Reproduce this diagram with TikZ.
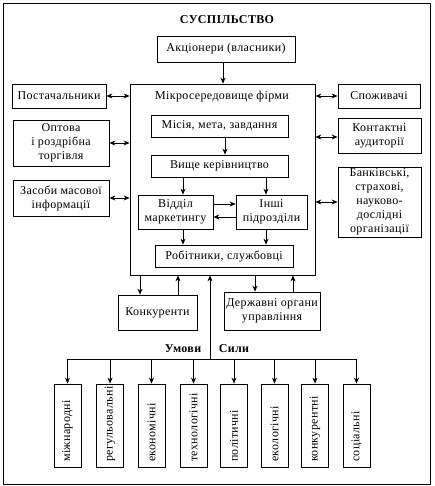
\documentclass[tikz,border=0pt]{standalone}
\usepackage{fontspec}
\setmainfont{Liberation Serif}[LetterSpace=3]
\usetikzlibrary{arrows.meta,calc}
\begin{document}
\begin{tikzpicture}[x=1pt,y=-1pt,
  every node/.style={font=\fontsize{12}{14}\selectfont},
  box/.style={draw,line width=0.8pt,align=center,inner sep=1pt},
  vbox/.style={draw,line width=0.8pt,minimum width=27pt,minimum height=83pt,inner sep=0pt},
  vtext/.style={rotate=90,anchor=west,inner sep=0pt},
  arr/.style={line width=0.8pt,-{Stealth[length=6pt,width=5pt]}},
  darr/.style={line width=0.8pt,{Stealth[length=6pt,width=5pt]}-{Stealth[length=6pt,width=5pt]}},
  ln/.style={line width=0.8pt},
  bold/.style={font=\fontsize{12}{14}\selectfont\bfseries}
]
\useasboundingbox (0,0) rectangle (434,486);
\draw[ln] (3,3) rectangle (430,484);
\node[bold] (title) at (227,20) {СУСПІЛЬСТВО};
\node[box,minimum width=138pt,minimum height=26pt] (akc) at (226,49) {Акціонери (власники)};
\node[box,minimum width=185pt,minimum height=191pt] (micro) at (222.5,179.5) {};
\node (mtitle) at (222,97) {Мікросередовище фірми};
\node[box,minimum width=94pt,minimum height=24pt] (post) at (59,96) {Постачальники};
\node[box,minimum width=82pt,minimum height=24pt] (spoz) at (379,96) {Споживачі};
\node[box,minimum width=96pt,minimum height=46pt] (opt) at (61,143) {Оптова\\ і роздрібна\\ торгівля};
\node[box,minimum width=96pt,minimum height=36pt] (zmi) at (61,198) {Засоби масової\\ інформації};
\node[box,minimum width=83pt,minimum height=35pt] (kont) at (379.5,135.5) {Контактні\\ аудиторії};
\node[box,minimum width=83pt,minimum height=70pt] (bank) at (379.5,202) {Банківські,\\ страхові,\\ науково-\\ дослідні\\ організації};
\node[box,minimum width=137pt,minimum height=22pt] (misia) at (219.5,126) {Місія, мета, завдання};
\node[box,minimum width=137pt,minimum height=22pt] (vysh) at (219.5,166) {Вище керівництво};
\node[box,minimum width=75pt,minimum height=34pt] (viddil) at (175.5,212) {Відділ\\ маркетингу};
\node[box,minimum width=71pt,minimum height=34pt] (inshi) at (271.5,212) {Інші\\ підрозділи};
\node[box,minimum width=138pt,minimum height=22pt] (robit) at (224,256) {Робітники, службовці};
\node[box,minimum width=79pt,minimum height=35pt] (konk) at (157.5,312.5) {Конкуренти};
\node[box,minimum width=96pt,minimum height=38pt] (derzh) at (272,311) {Державні органи\\ управління};
\node[bold] (umovy) at (183,349) {Умови};
\node[bold] (syly) at (234,349) {Сили};
% bottom boxes
\foreach \n/\x/\t in {b1/67.5/міжнародні,b2/110/регульовальні,b3/151.5/економічні,b4/193.5/технологічні,b5/234/політичні,b6/274.5/екологічні,b7/315/конкурентні,b8/356.5/соціальні}{
  \node[vbox] (\n) at (\x,425.5) {};
  \node[vtext] (\n t) at (\x,462) {\t};
}
% coordinates
\coordinate (xa) at (223,0);
\coordinate (xm) at (225,0);
\coordinate (xl) at (183,0);
\coordinate (xr) at (266,0);
\coordinate (yr) at (0,204);
\coordinate (yl) at (0,217);
\coordinate (yk) at (0,137);
\coordinate (k1) at (140,0);
\coordinate (k2) at (178,0);
\coordinate (d1) at (255,0);
\coordinate (d2) at (293,0);
\coordinate (hub) at (210,359);
% arrows
\draw[arr] (akc.south -| xa) -- (micro.north -| xa);
\draw[darr] (post.east) -- (micro.west |- post.east);
\draw[darr] (opt.east) -- (micro.west |- opt.east);
\draw[darr] (zmi.east) -- (micro.west |- zmi.east);
\draw[darr] (micro.east |- spoz.west) -- (spoz.west);
\draw[darr] (micro.east |- yk) -- (kont.west |- yk);
\draw[darr] (micro.east |- bank.west) -- (bank.west);
\draw[arr] (misia.south -| xm) -- (vysh.north -| xm);
\draw[arr] (vysh.south -| xl) -- (viddil.north -| xl);
\draw[arr] (vysh.south -| xr) -- (inshi.north -| xr);
\draw[arr] (viddil.east |- yr) -- (inshi.west |- yr);
\draw[arr] (inshi.west |- yl) -- (viddil.east |- yl);
\draw[arr] (viddil.south -| xl) -- (robit.north -| xl);
\draw[arr] (inshi.south -| xr) -- (robit.north -| xr);
\draw[arr] (micro.south -| k1) -- (konk.north -| k1);
\draw[arr] (konk.north -| k2) -- (micro.south -| k2);
\draw[arr] (micro.south -| d1) -- (derzh.north -| d1);
\draw[arr] (derzh.north -| d2) -- (micro.south -| d2);
\draw[arr] (hub) -- (micro.south -| hub);
\draw[ln] (b1.north |- hub) -- (b8.north |- hub);
\foreach \n in {b1,b2,b3,b4,b5,b6,b7,b8}{
  \draw[arr] (\n.north |- hub) -- (\n.north);
}
\end{tikzpicture}
\end{document}
